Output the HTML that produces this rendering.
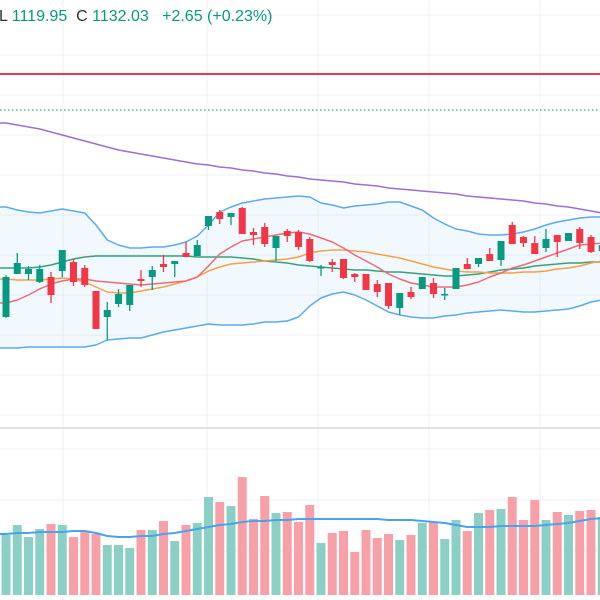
<!DOCTYPE html>
<html><head><meta charset="utf-8"><style>
html,body{margin:0;padding:0;background:#fff;width:600px;height:600px;overflow:hidden}
#hdr{position:absolute;left:-1px;top:8px;font-family:"Liberation Sans",sans-serif;font-size:16px;color:#089981;white-space:nowrap}
#hdr .k{color:#333}
</style></head><body>
<svg id="chart" width="600" height="600" style="position:absolute;left:0;top:0"></svg>
<div id="hdr"><span class="k">L</span> 1119.95&nbsp; <span class="k">C</span> 1132.03&nbsp;&nbsp; +2.65 (+0.23%)</div>
<script>
const opens=[1063,1106,1106,1098,1103,1109,1118,1112,1089,1063,1076,1075,1101,1103,1116,1116,1127,1124,1154,1168,1163,1172,1148,1153,1132,1149,1148,1141,1112,1118,1121,1106,1106,1096,1097,1072,1088,1091,1097,1085,1091,1116,1116,1126,1120,1155,1143,1137,1132,1145,1139,1151,1143,1129];
const highs=[1105,1127,1114,1115,1108,1130,1121,1115,1089,1078,1091,1095,1110,1114,1125,1119,1138,1140,1164,1170,1167,1173,1152,1157,1144,1151,1150,1143,1115,1121,1121,1107,1106,1100,1097,1087,1093,1103,1102,1092,1112,1122,1122,1132,1139,1158,1144,1144,1151,1145,1147,1153,1145,1137];
const lows=[1062,1106,1100,1097,1077,1103,1094,1093,1051,1040,1073,1069,1093,1090,1108,1103,1123,1124,1150,1156,1155,1146,1135,1133,1119,1138,1130,1118,1104,1108,1101,1098,1090,1083,1071,1065,1081,1091,1082,1080,1091,1111,1113,1119,1114,1136,1133,1126,1128,1123,1139,1131,1127,1122];
const closes=[1103,1117,1111,1111,1085,1130,1098,1095,1051,1070,1086,1095,1099,1110,1113,1119,1123,1135,1164,1161,1167,1146,1145,1136,1144,1144,1133,1119,1113,1115,1102,1103,1090,1088,1074,1087,1083,1103,1086,1086,1112,1111,1122,1119,1139,1136,1137,1126,1141,1138,1147,1137,1128,1135];
const upperBand=[1173,1170,1168,1167,1169,1171,1169,1167,1155,1140,1135,1132,1132,1133,1133,1135,1138,1144,1155,1168,1173,1177,1179,1181,1182,1183,1184,1183,1177,1175,1172,1174,1175,1176,1178,1178,1174,1170,1162,1156,1151,1149,1146,1145,1145,1146,1148,1151,1155,1158,1160,1162,1163,1163];
const lowerBand=[1032,1032,1033,1033,1033,1033,1033,1033,1035,1040,1041,1042,1042,1045,1048,1050,1052,1054,1056,1055,1055,1055,1056,1058,1058,1059,1063,1074,1082,1086,1088,1085,1080,1074,1068,1065,1063,1062,1062,1064,1065,1067,1068,1069,1070,1069,1068,1068,1069,1070,1071,1074,1078,1080];
const midBand=[1112,1112,1112,1113,1115,1118,1121,1123,1124,1124,1124,1124,1124,1124,1124,1124,1124,1123,1123,1123,1123,1122,1121,1119,1118,1117,1115,1114,1113,1112,1111,1110,1110,1109,1108,1108,1107,1106,1105,1104,1104,1105,1106,1108,1110,1111,1112,1114,1115,1116,1117,1117,1118,1118];
const maOrange=[1101,1100,1100,1100,1101,1102,1101,1098,1093,1088,1087,1087,1089,1091,1093,1096,1099,1103,1109,1113,1116,1117,1118,1119,1120,1121,1123,1127,1129,1130,1130,1129,1128,1126,1124,1122,1119,1116,1113,1111,1109,1108,1108,1107,1107,1107,1108,1108,1109,1111,1112,1114,1117,1119];
const maRed=[1077,1080,1085,1091,1096,1099,1101,1101,1099,1098,1097,1096,1095,1096,1097,1098,1099,1103,1114,1126,1133,1139,1141,1143,1145,1147,1148,1146,1142,1138,1132,1125,1119,1113,1106,1101,1097,1095,1093,1093,1093,1095,1098,1103,1107,1112,1115,1119,1123,1127,1131,1135,1136,1137];
const maPurple=[1257,1255,1253,1251,1248,1245,1242,1239,1236,1233,1230,1228,1226,1224,1222,1220,1218,1216,1215,1213,1212,1210,1209,1207,1206,1204,1203,1201,1200,1199,1198,1196,1195,1194,1192,1191,1190,1189,1188,1187,1186,1184,1183,1182,1181,1180,1179,1177,1176,1174,1173,1171,1169,1167];
const volumes=[60,70,58,66,71,70,58,63,61,50,50,47,65,65,74,54,70,72,98,93,89,118,76,99,82,83,73,90,52,62,64,43,65,57,61,55,60,72,73,56,75,64,82,85,86,98,75,95,75,83,80,84,85,78];
const volumeMA=[61,62,62,63,63,63,64,64,62,59,58,58,59,59,61,62,64,66,68,70,71,73,74,74,75,75,76,76,76,76,76,76,76,76,75,75,75,74,73,72,70,68,68,68,69,69,69,69,70,71,72,74,76,77];
const resistanceLevel=[1306];
const targetLevel=[1270];

const NS='http://www.w3.org/2000/svg';
const svg=document.getElementById('chart');
const X=i=>6+i*11.25;
const Y=p=>1380-p;
const VY=v=>595-v;
function mk(tag,attrs,parent){const e=document.createElementNS(NS,tag);for(const k in attrs)e.setAttribute(k,attrs[k]);(parent||svg).appendChild(e);return e;}
function pts(arr,yf){return 'M0,'+yf(arr[0])+'L'+arr.map((v,i)=>X(i)+','+yf(v)).join('L');}

[15,55,95,135,175,215,255,295,335,375,415,449,500,551].forEach(y=>{
  const g=mk('line',{x1:0,x2:600,y1:y,y2:y,stroke:'#f0f1f4','stroke-width':1});
  
  
});
[63,207,318,429,540].forEach(x=>{
  const g=mk('line',{x1:x,x2:x,y1:0,y2:600,stroke:'#f0f1f4','stroke-width':1});
  
  
});
const sep=mk('line',{x1:0,x2:600,y1:428,y2:428,stroke:'#e0e3eb','stroke-width':2});



let fd=pts(upperBand,Y);
for(let i=lowerBand.length-1;i>=0;i--)fd+='L'+X(i)+','+Y(lowerBand[i]);
fd+='L0,'+Y(lowerBand[0]);
const fill=mk('path',{d:fd+'Z',fill:'#2196f3','fill-opacity':0.06,stroke:'none'});



function line(arr,color,w,name,yf){
  const p=mk('path',{d:pts(arr,yf||Y),fill:'none',stroke:color,'stroke-width':w,'stroke-linejoin':'round'});
  
  
}
line(maPurple,'#9b6fd6',1.5,'ma-purple-line');
line(upperBand,'#5aaaf0',1.5,'bollinger-upper-line');
line(lowerBand,'#5aaaf0',1.5,'bollinger-lower-line');

const rl=mk('line',{x1:0,x2:600,y1:Y(resistanceLevel[0]),y2:Y(resistanceLevel[0]),stroke:'#f23645','stroke-width':2});


const tl=mk('line',{x1:0,x2:600,y1:Y(targetLevel[0]),y2:Y(targetLevel[0]),stroke:'#22ab94','stroke-width':1.2,'stroke-dasharray':'1.5,2.5'});



volumes.forEach((v,i)=>{
  const up=closes[i]>=opens[i];
  const r=mk('rect',{x:X(i)-4.5,y:VY(v),width:9,height:v,fill:up?'#8bd0c4':'#f8a0a8'});
  
  
});
line(volumeMA,'#4aa3ec',2,'volume-ma-line',VY);

line(midBand,'#3aa07c',1.5,'bollinger-basis-line');
line(maOrange,'#f5a04a',1.5,'ma-orange-line');
line(maRed,'#ee6a74',1.5,'ma-red-line');

opens.forEach((o,i)=>{
  const c=closes[i],up=c>=o,col=up?'#089981':'#f23645';
  const g=mk('g',{});
  
  
  mk('line',{x1:X(i),x2:X(i),y1:Y(highs[i]),y2:Y(lows[i]),stroke:col,'stroke-width':1.3},g);
  const top=Y(Math.max(o,c)),h=Math.max(1.5,Math.abs(o-c));
  mk('rect',{x:X(i)-3.5,y:top,width:7,height:h,fill:col},g);
});
</script>
</body></html>
